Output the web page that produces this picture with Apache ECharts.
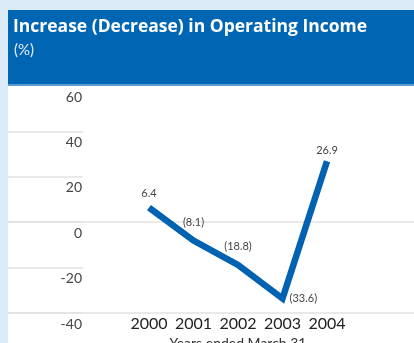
<!DOCTYPE html>
<html>
<head>
<meta charset="utf-8">
<script src="https://cdn.jsdelivr.net/npm/echarts@6/dist/echarts.min.js"></script>
<style>
  html, body { margin: 0; padding: 0; background: #dcebf8; }
  #chart { width: 414px; height: 343px; }
</style>
</head>
<body>
<div id="chart"></div>
<script>
// Fiscal years and percentage change in operating income
const years = ['2000', '2001', '2002', '2003', '2004'];
const changePct = [6.4, -8.1, -18.8, -33.6, 26.9];
const yMin = -40, yMax = 60, yStep = 20;

const FONT = 'Lato, "Open Sans", sans-serif';

// Negative values are written in parentheses
function fmt(v) {
  return v < 0 ? '(' + Math.abs(v).toFixed(1) + ')' : v.toFixed(1);
}

// Per-point label placement
const labelPlacement = [
  { show: true, position: 'top', distance: 8 },
  { show: true, position: 'top', distance: 12 },
  { show: true, position: 'top', distance: 12, offset: [6, 0] },
  { show: true, position: 'right', distance: 6, offset: [1, 6] },
  { show: true, position: 'top', distance: 4 }
];

const seriesData = changePct.map((v, i) => ({
  value: v,
  label: labelPlacement[i]
}));

const chart = echarts.init(document.getElementById('chart'), null, { renderer: 'canvas' });

const gridBase = { top: 86, bottom: 30, outerBoundsMode: 'none', containLabel: false };

chart.setOption({
  backgroundColor: '#dcebf8',
  animation: false,
  graphic: [
    { type: 'rect', shape: { x: 8, y: 10, width: 406, height: 76 }, style: { fill: '#0066b3' }, z: 0 },
    { type: 'rect', shape: { x: 8, y: 84, width: 406, height: 2 }, style: { fill: '#5a9bd3' }, z: 0 },
    { type: 'rect', shape: { x: 8, y: 86, width: 406, height: 257 }, style: { fill: '#ffffff' }, z: 0 }
  ],
  title: [
    {
      text: 'Increase (Decrease) in Operating Income',
      left: 13,
      top: 18,
      padding: 0,
      textStyle: { color: '#ffffff', fontFamily: '"Open Sans", Lato, sans-serif', fontWeight: 'bold', fontSize: 17.5 }
    },
    {
      text: '(%)',
      left: 14,
      top: 43,
      padding: 0,
      textStyle: { color: '#e6eef8', fontFamily: FONT, fontWeight: 'normal', fontSize: 15 }
    }
  ],
  grid: [
    // tick labels and short guide lines on the left
    Object.assign({ left: 8, width: 75 }, gridBase),
    // full-width lines at 0 and -40
    Object.assign({ left: 8, right: 0 }, gridBase),
    // plot area for the line
    Object.assign({ left: 126.75, width: 222.5 }, gridBase)
  ],
  xAxis: [
    { gridIndex: 0, type: 'category', data: years, show: false },
    { gridIndex: 1, type: 'category', data: years, show: false },
    {
      gridIndex: 2, type: 'category', data: years, boundaryGap: true,
      axisLine: { show: false }, axisTick: { show: false },
      axisLabel: { interval: 0, color: '#222', fontFamily: FONT, fontSize: 16, margin: 3 },
      name: 'Years ended March 31', nameLocation: 'middle', nameGap: 19,
      nameTextStyle: { color: '#333', fontFamily: FONT, fontSize: 14, verticalAlign: 'top' }
    }
  ],
  yAxis: [
    {
      gridIndex: 0, type: 'value', min: yMin, max: yMax, interval: yStep,
      position: 'right',
      axisLine: { show: false }, axisTick: { show: false },
      axisLabel: {
        inside: true, margin: 1, color: '#444', fontFamily: FONT, fontSize: 14,
        verticalAlign: 'top', padding: [4, 0, 0, 0]
      },
      splitLine: { show: true, lineStyle: { color: ['#e2e2e2', '#e2e2e2', '#e2e2e2', '#e2e2e2', '#e2e2e2', 'rgba(0,0,0,0)'], width: 1.5 } }
    },
    {
      gridIndex: 1, type: 'value', min: yMin, max: yMax, interval: yStep,
      axisLine: { show: false }, axisTick: { show: false }, axisLabel: { show: false },
      splitLine: { show: true, lineStyle: { color: ['#e2e2e2', 'rgba(0,0,0,0)', '#e2e2e2', 'rgba(0,0,0,0)', 'rgba(0,0,0,0)', 'rgba(0,0,0,0)'], width: 1.5 } }
    },
    {
      gridIndex: 2, type: 'value', min: yMin, max: yMax, interval: yStep,
      axisLine: { show: false }, axisTick: { show: false }, axisLabel: { show: false },
      splitLine: { show: false }
    }
  ],
  series: [{
    type: 'line',
    xAxisIndex: 2,
    yAxisIndex: 2,
    data: seriesData,
    symbol: 'circle',
    symbolSize: 2,
    showSymbol: true,
    itemStyle: { color: 'rgba(0,0,0,0)', borderWidth: 0 },
    lineStyle: { color: '#0062b1', width: 6.5, cap: 'butt', join: 'miter', miterLimit: 20 },
    label: {
      show: true,
      color: '#444',
      fontFamily: FONT,
      fontSize: 11,
      formatter: p => fmt(p.value)
    },
    labelLayout: { hideOverlap: false },
    z: 5
  }]
});
</script>
</body>
</html>
